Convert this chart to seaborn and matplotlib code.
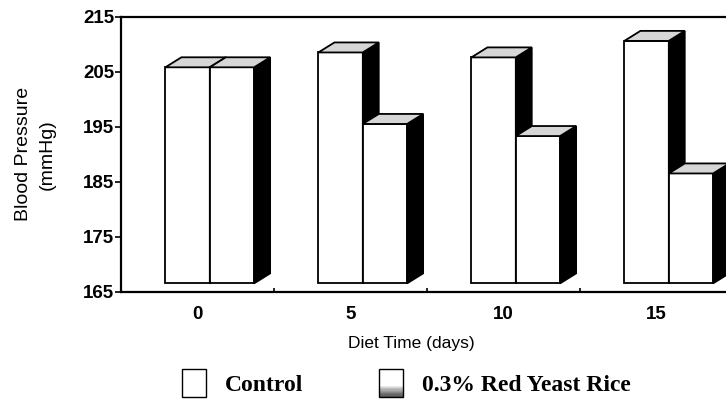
import numpy as np
import pandas as pd
import matplotlib
matplotlib.use("Agg")
import matplotlib.pyplot as plt
import seaborn as sns
from matplotlib.patches import Polygon, Patch, Rectangle
from matplotlib.legend_handler import HandlerBase

# ---- data ----
days = ["0", "5", "10", "15"]
control = [205.8, 208.5, 207.6, 210.6]
red_yeast = [205.8, 195.5, 193.3, 186.5]
groups = ["Control", "0.3% Red Yeast Rice"]
yticks = [165, 175, 185, 195, 205, 215]

df = pd.DataFrame({
    "day": days * 2,
    "group": [groups[0]] * len(days) + [groups[1]] * len(days),
    "bp": control + red_yeast,
})

sns.set_style("white")
plt.rcParams["font.family"] = ["Liberation Sans", "DejaVu Sans"]
plt.rcParams["text.color"] = "black"
plt.rcParams["axes.labelcolor"] = "black"
plt.rcParams["xtick.color"] = "black"
plt.rcParams["ytick.color"] = "black"

fig = plt.figure(figsize=(7.26, 4.04), dpi=100)
ax = fig.add_axes([121 / 726, 112.3 / 404, 612 / 726, 275 / 404])

sns.barplot(data=df, x="day", y="bp", hue="group", hue_order=groups, order=days,
            palette=["white", "white"], saturation=1, width=0.58,
            edgecolor="black", linewidth=1.3, legend=False, ax=ax)

ax.set_ylim(165, 215)
ax.set_xlim(-0.5, 3.5)

# 3-D look (style constants)
FLOOR = 166.5
SHIFT = 0.08
DX = 0.105
DY = 1.82

for hi, cont in enumerate(ax.containers):
    for p in cont.patches:
        top = p.get_y() + p.get_height()
        p.set_x(p.get_x() + SHIFT)
        p.set_y(FLOOR)
        p.set_height(top - FLOOR)
        z = 2 + hi
        p.set_zorder(z)
        x0 = p.get_x()
        x1 = x0 + p.get_width()
        side = Polygon([(x1, FLOOR), (x1 + DX, FLOOR + DY), (x1 + DX, top + DY), (x1, top)],
                       closed=True, facecolor="black", edgecolor="black", lw=1.2,
                       zorder=z + 0.1)
        topf = Polygon([(x0, top), (x1, top), (x1 + DX, top + DY), (x0 + DX, top + DY)],
                       closed=True, facecolor="#d6d6d6", edgecolor="black", lw=1.3,
                       zorder=z + 0.2)
        ax.add_patch(side)
        ax.add_patch(topf)

# axes styling
ax.set_yticks(yticks)
ax.set_yticklabels([str(t) for t in yticks], fontweight="bold")
ax.set_xticks(range(len(days)))
ax.set_xticklabels(days, fontweight="bold")
ax.tick_params(axis="y", direction="out", length=4, width=1.2, pad=1,
               labelsize=13.5, left=True)
ax.tick_params(axis="x", which="major", length=0, pad=10, labelsize=13.5)
ax.set_xticks([0.5, 1.5, 2.5], minor=True)
ax.tick_params(axis="x", which="minor", direction="in", length=3, width=1.2, bottom=True)

for s in ["left", "top", "bottom"]:
    ax.spines[s].set_visible(True)
    ax.spines[s].set_color("black")
    ax.spines[s].set_linewidth(1.6)
ax.spines["right"].set_visible(False)

ax.set_xlabel("Diet Time (days)", fontsize=12.5)
ax.xaxis.set_label_coords(0.475, -0.187)
ax.xaxis.label.set_verticalalignment("center")
ax.set_ylabel("Blood Pressure\n(mmHg)", fontsize=14, linespacing=1.5)
ax.yaxis.set_label_coords(-0.1405, 0.5)
ax.yaxis.label.set_verticalalignment("center")


# legend with gradient box for the treatment group
class GradHandler(HandlerBase):
    def create_artists(self, legend, orig_handle, xdescent, ydescent, width, height,
                       fontsize, trans):
        x0, y0 = -xdescent, -ydescent
        arts = []
        base = Rectangle((x0, y0), width, height, facecolor="white", edgecolor="none")
        base.set_transform(trans)
        arts.append(base)
        n = 10
        frac = 0.45
        for i in range(n):
            h = height * frac / n
            yb = y0 + i * h
            g = 0.35 + 0.65 * (i / (n - 1)) ** 1.2
            r = Rectangle((x0, yb), width, h + 0.3, facecolor=(g, g, g), edgecolor="none")
            r.set_transform(trans)
            arts.append(r)
        outline = Rectangle((x0, y0), width, height, facecolor="none", edgecolor="black", lw=1.0)
        outline.set_transform(trans)
        arts.append(outline)
        return arts


h1 = Patch(facecolor="white", edgecolor="black", lw=1.0, label=groups[0])
h2 = Patch(facecolor="white", edgecolor="black", lw=1.0, label=groups[1])
leg = fig.legend(handles=[h1, h2], labels=groups, ncol=2, loc="center left",
                 bbox_to_anchor=(182 / 726, 1 - 383 / 404), frameon=False,
                 prop={"family": "Liberation Serif", "weight": "bold", "size": 17},
                 handlelength=1.02, handleheight=1.45, handletextpad=0.8,
                 columnspacing=3.2, borderpad=0, borderaxespad=0,
                 handler_map={h2: GradHandler()})

fig.savefig("out.png", dpi=100)
